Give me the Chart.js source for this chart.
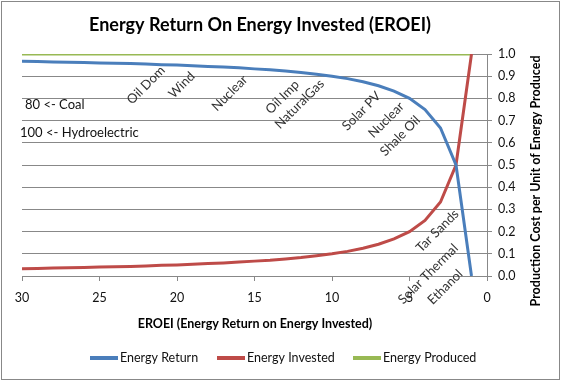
<!DOCTYPE html>
<html>
<head>
<meta charset="utf-8">
<script src="https://cdn.jsdelivr.net/npm/chart.js@4"></script>
<style>
  html, body { margin: 0; padding: 0; background: #fff; }
  #wrap { width: 562px; height: 382px; position: relative; }
</style>
</head>
<body>
<div id="wrap"><canvas id="c" width="562" height="382"></canvas></div>
<script>
// ---- Data ----
const eroei = [30, 29, 28, 27, 26, 25, 24, 23, 22, 21, 20, 19, 18, 17, 16, 15, 14, 13, 12, 11, 10, 9, 8, 7, 6, 5, 4, 3, 2, 1];
const energyReturn = [0.967, 0.966, 0.964, 0.963, 0.962, 0.960, 0.958, 0.957, 0.955, 0.952, 0.950, 0.947, 0.944, 0.941, 0.938, 0.933, 0.929, 0.923, 0.917, 0.909, 0.900, 0.889, 0.875, 0.857, 0.833, 0.800, 0.750, 0.667, 0.500, 0.000];
const energyInvested = [0.033, 0.034, 0.036, 0.037, 0.038, 0.040, 0.042, 0.043, 0.045, 0.048, 0.050, 0.053, 0.056, 0.059, 0.063, 0.067, 0.071, 0.077, 0.083, 0.091, 0.100, 0.111, 0.125, 0.143, 0.167, 0.200, 0.250, 0.333, 0.500, 1.000];
const energyProduced = [1, 1, 1, 1, 1, 1, 1, 1, 1, 1, 1, 1, 1, 1, 1, 1, 1, 1, 1, 1, 1, 1, 1, 1, 1, 1, 1, 1, 1, 1];
const seriesNames = ['Energy Return', 'Energy Invested', 'Energy Produced'];

// Source labels placed along the curve (EROEI position, y position of label centre)
const sourceNames = ['Oil Dom', 'Wind', 'Nuclear', 'Oil Imp', 'NaturalGas', 'Solar PV', 'Nuclear', 'Shale Oil', 'Tar Sands', 'Solar Thermal', 'Ethanol'];
const sourceX = [22.0, 19.7, 16.6, 13.2, 12.1, 8.1, 6.5, 5.6, 3.2, 3.8, 2.7];
const sourceY = [0.86, 0.86, 0.824, 0.806, 0.775, 0.743, 0.703, 0.631, 0.203, 0.009, -0.05];

// Off-scale notes
const notes = ['80 <- Coal', '100 <- Hydroelectric'];

const xTicks = [30, 25, 20, 15, 10, 5, 0];

const titleText = 'Energy Return On Energy Invested (EROEI)';
const xTitle = 'EROEI (Energy Return on Energy Invested)';
const yTitle = 'Production Cost per Unit of Energy Produced';

const colors = ['#4a7ebb', '#be4b48', '#98b954'];
const FONT = 'Lato, "Open Sans", sans-serif';

function pts(ys) { return eroei.map((x, i) => ({ x: x, y: ys[i] })); }

const decor = {
  id: 'decor',
  afterDatasetsDraw(chart) {
    const ctx = chart.ctx;
    const xs = chart.scales.x, ys = chart.scales.y;
    ctx.save();
    // source labels
    ctx.fillStyle = '#333';
    ctx.font = '13px ' + FONT;
    ctx.textAlign = 'center';
    ctx.textBaseline = 'middle';
    sourceNames.forEach((n, i) => {
      const px = xs.getPixelForValue(sourceX[i]);
      const py = ys.getPixelForValue(sourceY[i]);
      ctx.save();
      ctx.translate(px, py);
      ctx.rotate(-Math.PI / 4);
      ctx.fillText(n, 0, 0);
      ctx.restore();
    });
    // notes
    ctx.fillStyle = '#111';
    ctx.font = '13px ' + FONT;
    ctx.textAlign = 'left';
    ctx.fillText(notes[0], 25, 105);
    ctx.fillText(notes[1], 20, 133);
    ctx.restore();
  },
  afterDraw(chart) {
    const ctx = chart.ctx;
    ctx.save();
    // border
    ctx.strokeStyle = '#888';
    ctx.lineWidth = 1;
    ctx.strokeRect(1.5, 1.5, 558, 378);
    // title
    ctx.fillStyle = '#000';
    ctx.font = 'bold 18px ' + FONT;
    ctx.textAlign = 'center';
    ctx.textBaseline = 'middle';
    ctx.fillText(titleText, 260, 25);
    // x title
    ctx.font = 'bold 12.5px ' + FONT;
    ctx.fillText(xTitle, 255, 324);
    // y title
    ctx.save();
    ctx.translate(536, 181);
    ctx.rotate(-Math.PI / 2);
    ctx.fillText(yTitle, 0, 0);
    ctx.restore();
    // legend
    const lx = [90, 217, 353];
    ctx.font = '12.5px ' + FONT;
    ctx.textAlign = 'left';
    seriesNames.forEach((n, i) => {
      ctx.strokeStyle = colors[i];
      ctx.lineWidth = 4;
      ctx.beginPath();
      ctx.moveTo(lx[i], 358);
      ctx.lineTo(lx[i] + 28, 358);
      ctx.stroke();
      ctx.fillStyle = '#111';
      ctx.fillText(n, lx[i] + 30, 358);
    });
    ctx.restore();
  }
};

new Chart(document.getElementById('c'), {
  type: 'line',
  data: {
    datasets: [
      { label: seriesNames[0], data: pts(energyReturn), borderColor: colors[0], borderWidth: 3, pointRadius: 0, tension: 0 },
      { label: seriesNames[1], data: pts(energyInvested), borderColor: colors[1], borderWidth: 3, pointRadius: 0, tension: 0 },
      { label: seriesNames[2], data: pts(energyProduced), borderColor: colors[2], borderWidth: 3, pointRadius: 0 }
    ]
  },
  options: {
    responsive: false,
    animation: false,
    layout: { padding: { left: 22, top: 54, right: 0, bottom: 0 } },
    plugins: { legend: { display: false }, title: { display: false }, tooltip: { enabled: false } },
    scales: {
      x: {
        type: 'linear',
        reverse: true,
        min: 0, max: 30,
        afterFit(s) { s.height = 106; },
        afterBuildTicks(s) { s.ticks = xTicks.map(v => ({ value: v })); },
        grid: { drawOnChartArea: false, drawTicks: true, tickLength: 5, color: '#888' },
        border: { color: '#888' },
        ticks: { color: '#111', font: { family: FONT, size: 12.5 }, padding: 9, maxRotation: 0 }
      },
      y: {
        position: 'right',
        min: 0, max: 1,
        afterFit(s) { s.width = 75; },
        grid: { color: '#888', tickLength: 5 },
        border: { color: '#888' },
        ticks: { stepSize: 0.1, color: '#111', font: { family: FONT, size: 12.5 }, padding: 6, callback: v => Number(v).toFixed(1) }
      }
    }
  },
  plugins: [decor]
});
</script>
</body>
</html>
